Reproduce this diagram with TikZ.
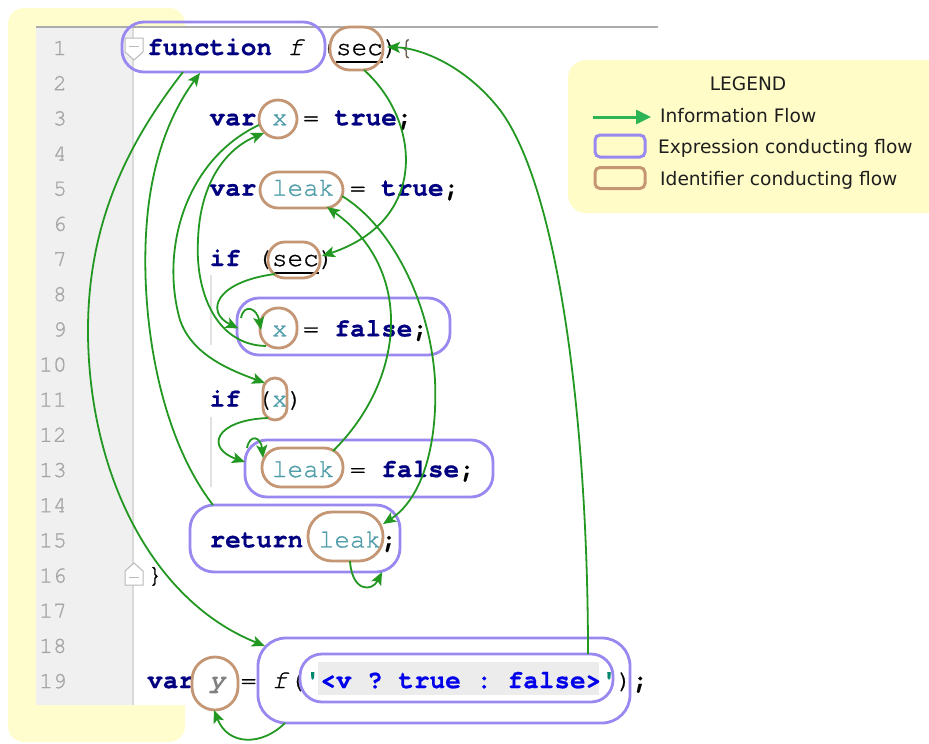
\documentclass[tikz,border=0pt]{standalone}
\usepackage{fontspec}
\setmainfont{DejaVu Sans}
\setmonofont{texgyrecursor}[Extension=.otf, UprightFont=*-regular, BoldFont=*-bold, ItalicFont=*-italic, BoldItalicFont=*-bolditalic,
  UprightFeatures={FakeBold=1}, ItalicFeatures={FakeBold=1}, BoldFeatures={FakeBold=0.6}]
\usetikzlibrary{arrows.meta}

\definecolor{panelyellow}{RGB}{255,253,206}
\definecolor{legendyellow}{RGB}{255,252,200}
\definecolor{guttergray}{RGB}{240,240,240}
\definecolor{gutterrule}{RGB}{218,218,218}
\definecolor{toprule}{RGB}{172,172,172}
\definecolor{lnumgray}{RGB}{165,165,165}
\definecolor{kwnavy}{RGB}{0,0,128}
\definecolor{idteal}{RGB}{80,158,170}
\definecolor{ygray}{RGB}{128,128,128}
\definecolor{strblue}{RGB}{0,0,235}
\definecolor{quoteteal}{RGB}{0,135,110}
\definecolor{hlgray}{RGB}{236,236,236}
\definecolor{bracegray}{RGB}{110,95,80}
\definecolor{flowgreen}{RGB}{34,152,34}
\definecolor{legendgreen}{RGB}{45,180,85}
\definecolor{exprblue}{RGB}{152,136,240}
\definecolor{identbrown}{RGB}{196,150,116}
\definecolor{guidegray}{RGB}{225,225,225}
\definecolor{foldgray}{RGB}{185,185,185}
\definecolor{legendink}{RGB}{30,30,30}

% code styling helpers
\newcommand\kw[1]{{\bfseries\color{kwnavy}#1}}
\newcommand\idf[1]{{\color{idteal}#1}}
\newcommand\usec[1]{\setbox0=\hbox{#1}\rlap{\rule[-7.5pt]{\wd0}{1.1pt}}\box0}

\tikzset{
  codeline/.style={anchor=base west, inner sep=0pt, font=\ttfamily\fontsize{26}{26}\selectfont\frenchspacing},
  lnum/.style={anchor=base east, inner sep=0pt, text=lnumgray, font=\ttfamily\fontsize{23}{23}\selectfont},
  expr/.style={draw=exprblue, line width=2.8pt, rounded corners=#1, inner sep=0pt},
  expr/.default=22pt,
  ident/.style={draw=identbrown, line width=2.8pt, rounded corners=#1, inner sep=0pt},
  ident/.default=17pt,
  flow/.style={draw=flowgreen, line width=1.8pt, -{Stealth[length=13pt,width=11pt,inset=3pt]}},
  legendtext/.style={anchor=base west, inner sep=0pt, text=legendink, font=\fontsize{18.6}{18.6}\selectfont},
}

\begin{document}
\begin{tikzpicture}[x=1pt,y=-1pt]
\useasboundingbox (0,0) rectangle (929,744);

% editor panel
\fill[panelyellow, rounded corners=16pt] (8,8) rectangle (185,742);
\fill[white] (36,27) rectangle (660,705);
\fill[guttergray] (36,27) rectangle (133,705);
\draw[gutterrule, line width=1.2pt] (133,27) -- (133,705);
\draw[toprule, line width=2pt] (36,27) -- (658,27);

% indentation guides
\draw[guidegray, line width=1.5pt] (211,275) -- (211,345);
\draw[guidegray, line width=1.5pt] (211,417) -- (211,487);

% fold markers
\draw[foldgray, fill=white, line width=1pt] (125,38) -- (143,38) -- (143,52) -- (134,60) -- (125,52) -- cycle;
\draw[foldgray, line width=1pt] (129,46) -- (139,46);
\draw[foldgray, fill=white, line width=1pt] (125,585) -- (143,585) -- (143,571) -- (134,563) -- (125,571) -- cycle;
\draw[foldgray, line width=1pt] (129,577) -- (139,577);

% line numbers
\foreach \i in {1,...,19} {
  \node[lnum] (n\i) at (67,{55+(\i-1)*35.17}) {\i};
}

% string highlight
\fill[hlgray] (318,662) rectangle (599,695);

% source lines
\node[codeline] (c1) at (147,55) {\kw{function} \textit{f} (\usec{sec})\textcolor{bracegray}{\{}};
\node[codeline] (c3) at (209.4,125.3) {\kw{var} \idf{x} = \kw{true}{\bfseries;}};
\node[codeline] (c5) at (209.4,195.7) {\kw{var} \idf{leak} = \kw{true}{\bfseries;}};
\node[codeline] (c7) at (209.4,266.0) {\kw{if} (\usec{sec})};
\node[codeline] (c9) at (271.8,336.4) {\idf{x} = \kw{false}{\bfseries;}};
\node[codeline] (c11) at (209.4,406.7) {\kw{if} (\idf{x})};
\node[codeline] (c13) at (271.8,477.0) {\idf{leak} = \kw{false}{\bfseries;}};
\node[codeline] (c15) at (209.4,547.4) {\kw{return} \idf{leak}{\bfseries;}};
\node[codeline] (c16) at (147,582.6) {\}};
\node[codeline] (c19) at (147,688.1) {\kw{var} {\bfseries\itshape\color{ygray}y} = \textit{f}(\textcolor{quoteteal}{\bfseries\textquotesingle}{\bfseries\color{strblue}<v ? true : false>}\textcolor{quoteteal}{\bfseries\textquotesingle}){\bfseries;}};

% expressions conducting flow
\node[expr, minimum width=203pt, minimum height=50pt] (fbox) at (223.5,47) {};
\node[expr, minimum width=213pt, minimum height=57pt] (box9) at (343.5,326.5) {};
\node[expr, minimum width=248pt, minimum height=57pt] (box13) at (369,468.5) {};
\node[expr=24pt, minimum width=210pt, minimum height=67pt] (ret) at (295,538.5) {};
\node[expr=28pt, minimum width=372pt, minimum height=85pt] (call) at (444,680.5) {};
\node[expr, minimum width=313pt, minimum height=48pt] (str) at (456.5,678) {};

% identifiers conducting flow
\node[ident=20pt, minimum width=53pt, minimum height=43pt] (sec1) at (356.5,48.5) {};
\node[ident=19pt, minimum width=38pt, minimum height=38pt] (x3) at (278,119) {};
\node[ident=18pt, minimum width=83pt, minimum height=36pt] (leak5) at (301.5,190) {};
\node[ident=17pt, minimum width=52pt, minimum height=36pt] (sec7) at (294,260) {};
\node[ident=18pt, minimum width=37pt, minimum height=40pt] (x9) at (278.5,328) {};
\node[ident=12pt, minimum width=24pt, minimum height=42pt] (x11) at (275,399) {};
\node[ident=19pt, minimum width=81pt, minimum height=39pt] (leak13) at (302.5,467.5) {};
\node[ident=24pt, minimum width=75pt, minimum height=49pt] (leak15) at (345.5,536.5) {};
\node[ident=23pt, minimum width=46pt, minimum height=53pt] (y19) at (215,683.5) {};

% information flow
\draw[flow] ([shift={(-40.5,25)}]fbox.center) .. controls (130,140) and (88,220) .. (88,330)
  .. controls (88,470) and (150,600) .. ([shift={(-179,-34.5)}]call.center);
\draw[flow] ([shift={(-82,-33.5)}]ret.center) .. controls (155,430) and (138,300) .. (148,210)
  .. controls (156,140) and (180,100) .. ([shift={(-23.5,26)}]fbox.center);
\draw[flow] ([shift={(-19,6)}]x3.center) .. controls (185,160) and (160,250) .. (180,320)
  .. controls (192,355) and (230,370) .. ([shift={(-10,-16)}]x11.center);
\draw[flow] ([shift={(-12.5,18)}]x9.center) .. controls (215,345) and (195,290) .. (198,240)
  .. controls (200,180) and (228,148) .. ([shift={(-14,14)}]x3.center);
\draw[flow] ([shift={(7.5,21.5)}]sec1.center) .. controls (420,120) and (430,220) .. ([shift={(28,-4)}]sec7.center);
\draw[flow] ([shift={(-19,14)}]sec7.center) .. controls (215,282) and (205,312) .. ([shift={(-105,2)}]box9.center);
\draw[flow] ([shift={(-102.5,-8.5)}]box9.center) .. controls (244,303) and (257,308) .. ([shift={(-17.5,2)}]x9.center);
\draw[flow] ([shift={(-7,19)}]x11.center) .. controls (215,420) and (205,448) .. ([shift={(-124,-6.5)}]box13.center);
\draw[flow] ([shift={(-122,-20.5)}]box13.center) .. controls (250,433) and (261,437) .. ([shift={(-39.5,-9.5)}]leak13.center);
\draw[flow] ([shift={(30.5,-16.5)}]leak13.center) .. controls (405,380) and (415,270) .. ([shift={(25.5,17)}]leak5.center);
\draw[flow] ([shift={(40.5,6)}]leak5.center) .. controls (390,225) and (430,300) .. (435,380)
  .. controls (438,450) and (420,500) .. ([shift={(37.5,-12.5)}]leak15.center);
\draw[flow] ([shift={(4.5,24.5)}]leak15.center) .. controls (352,592) and (372,592) .. ([shift={(87,33.5)}]ret.center);
\draw[flow] ([shift={(-159,42.5)}]call.center) .. controls (262,746) and (228,746) .. ([shift={(-1,26.5)}]y19.center);
\draw[flow] ([shift={(131.5,-24)}]str.center) .. controls (588,430) and (560,190) .. (500,110)
  .. controls (465,65) and (420,48) .. ([shift={(30.5,-1.5)}]sec1.center);

% legend
\fill[legendyellow, rounded corners=18pt] (568,60) rectangle (960,213);
\node[anchor=base, inner sep=0pt, text=legendink, font=\fontsize{18.6}{18.6}\selectfont] (legtitle) at (748,90) {LEGEND};
\coordinate (lgA) at (593,117);
\coordinate (lgB) at (651,117);
\draw[legendgreen, line width=3pt, -{Triangle[length=15pt,width=14pt]}] (lgA) -- (lgB);
\node[legendtext] (leg1) at (660,122) {Information Flow};
\node[draw=exprblue, line width=3pt, rounded corners=5pt, minimum width=50pt, minimum height=22pt, inner sep=0pt] (legexpr) at (620,146) {};
\node[legendtext] (leg2) at (658,153) {Expression conducting flow};
\node[draw=identbrown, line width=3pt, rounded corners=5pt, minimum width=50pt, minimum height=21pt, inner sep=0pt] (legid) at (620,178) {};
\node[legendtext] (leg3) at (660,185) {Identifier conducting flow};
\end{tikzpicture}
\end{document}
